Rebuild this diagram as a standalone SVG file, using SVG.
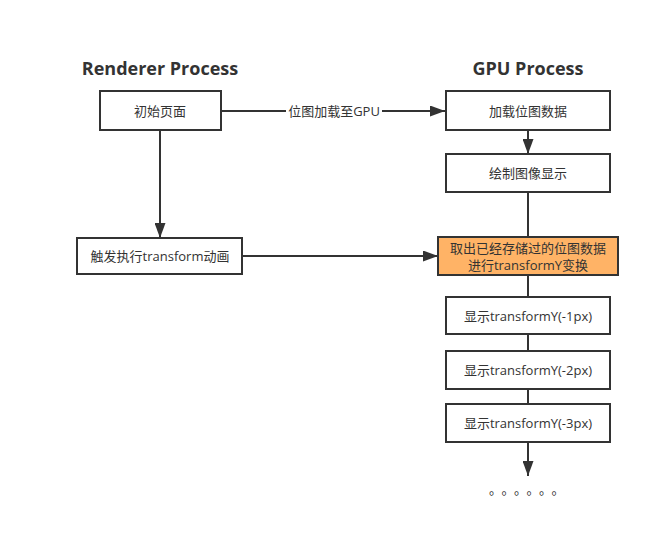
<svg xmlns="http://www.w3.org/2000/svg" width="649" height="540" viewBox="0 0 649 540">
<defs>
<marker id="ah" markerWidth="15" markerHeight="11" refX="15" refY="5.5" orient="auto" markerUnits="userSpaceOnUse">
<path d="M0,0 L15,5.5 L0,11 Z" fill="#333"/>
</marker>
<style>
.box{fill:#fff;stroke:#333;stroke-width:2}
.hl{fill:#FFB366;stroke:#333;stroke-width:2}
.t{font-family:"Open Sans","Noto Sans CJK SC",sans-serif;font-size:13px;fill:#333;text-anchor:middle;dominant-baseline:central}
.h{font-family:"Open Sans","Liberation Sans",sans-serif;font-size:18px;font-weight:bold;fill:#333;text-anchor:middle}
.c{stroke:#333;stroke-width:2;fill:none}
</style>
</defs>
<rect width="649" height="540" fill="#fff"/>
<text class="h" x="160" y="75">Renderer Process</text>
<text class="h" x="528" y="75">GPU Process</text>
<g id="connectors">
<path class="c" d="M221,111 H445" marker-end="url(#ah)"/>
<rect x="286" y="102" width="96" height="18" fill="#fff"/>
<text class="t" x="334" y="111">位图加载至GPU</text>
<path class="c" d="M160,131 V238" marker-end="url(#ah)"/>
<path class="c" d="M243,256 H438" marker-end="url(#ah)"/>
<path class="c" d="M528,131 V154" marker-end="url(#ah)"/>
<path class="c" d="M528,192 V237"/>
<path class="c" d="M528,275 V297"/>
<path class="c" d="M528,334 V351"/>
<path class="c" d="M528,442 V476" marker-end="url(#ah)"/>
<path class="c" d="M528,389 V404"/>
</g>
<g id="n1"><rect class="box" x="100" y="91" width="121" height="39"/><text class="t" x="160" y="111">初始页面</text></g>
<g id="n2"><rect class="box" x="446" y="91" width="164" height="39"/><text class="t" x="528" y="111">加载位图数据</text></g>
<g id="n3"><rect class="box" x="446" y="154" width="164" height="38"/><text class="t" x="528" y="173">绘制图像显示</text></g>
<g id="n4"><rect class="box" x="77" y="238" width="165" height="36"/><text class="t" x="160" y="256">触发执行transform动画</text></g>
<g id="n5"><rect class="hl" x="438" y="237" width="180" height="38"/><text class="t" x="528" y="248">取出已经存储过的位图数据</text><text class="t" x="528" y="265">进行transformY变换</text></g>
<g id="n6"><rect class="box" x="446" y="297" width="164" height="37"/><text class="t" x="528" y="316">显示transformY(-1px)</text></g>
<g id="n7"><rect class="box" x="446" y="351" width="164" height="38"/><text class="t" x="528" y="370">显示transformY(-2px)</text></g>
<g id="n8"><rect class="box" x="446" y="404" width="164" height="38"/><text class="t" x="528" y="423">显示transformY(-3px)</text></g>
<text x="489" y="494" font-family="'Noto Sans CJK SC',sans-serif" font-size="13" letter-spacing="6" fill="#333">。。。。。。</text>
</svg>
